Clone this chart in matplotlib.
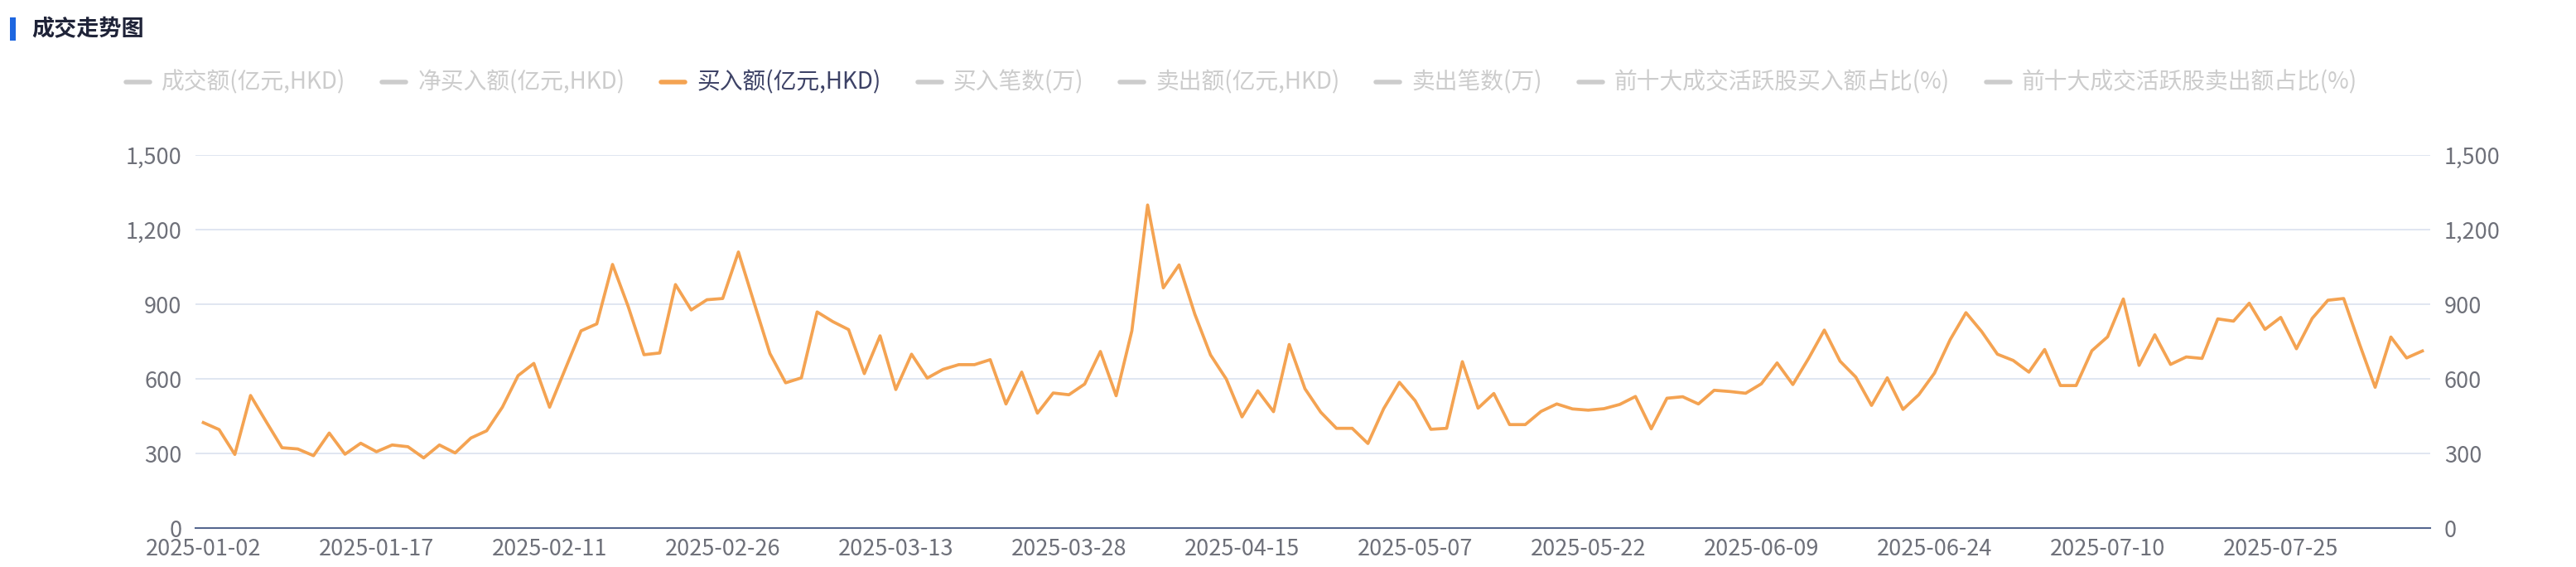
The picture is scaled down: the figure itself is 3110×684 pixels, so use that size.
import numpy as np
import pandas as pd
import matplotlib
matplotlib.use('Agg')
import matplotlib.pyplot as plt
from matplotlib.lines import Line2D
from matplotlib.patches import Rectangle
from matplotlib.ticker import FuncFormatter, MultipleLocator

plt.rcParams['font.family'] = ['Noto Sans CJK SC', 'DejaVu Sans']

# dias sem negociacao (港股通) entre 2025-01-02 e 2025-08-07
dias_fechados = ['2025-01-28', '2025-01-29', '2025-01-30', '2025-01-31', '2025-02-03',
                 '2025-02-04', '2025-04-04', '2025-04-18', '2025-04-21', '2025-05-01',
                 '2025-05-02', '2025-05-05', '2025-06-02', '2025-07-01']

# 买入额(亿元,HKD)
compra = [
    424, 396, 296, 533, 427, 323, 318, 291, 382, 297,
    341, 307, 334, 327, 282, 334, 302, 362, 391, 486,
    613, 662, 486, 640, 793, 821, 1060, 890, 697, 704,
    979, 877, 918, 923, 1110, 905, 702, 584, 604, 869,
    830, 798, 621, 773, 557, 699, 603, 638, 657, 657,
    677, 499, 627, 462, 543, 536, 579, 710, 532, 793,
    1299, 966, 1058, 860, 696, 599, 447, 552, 468, 738,
    560, 466, 401, 401, 340, 480, 586, 512, 397, 401,
    669, 482, 541, 416, 416, 469, 499, 479, 474, 480,
    497, 529, 399, 522, 528, 499, 554, 549, 542, 580,
    664, 577, 682, 796, 671, 607, 493, 604, 477, 536,
    623, 758, 866, 790, 699, 674, 627, 718, 573, 573,
    713, 769, 921, 654, 777, 658, 688, 682, 841, 832,
    904, 799, 847, 721, 843, 916, 923, 741, 566, 768,
    684, 712]

nomes_series = ['成交额(亿元,HKD)', '净买入额(亿元,HKD)', '买入额(亿元,HKD)', '买入笔数(万)',
                '卖出额(亿元,HKD)', '卖出笔数(万)', '前十大成交活跃股买入额占比(%)',
                '前十大成交活跃股卖出额占比(%)']
serie_ativa = 2

datas = pd.bdate_range('2025-01-02', '2025-08-07', freq='C', holidays=dias_fechados)
rotulos = list(datas.strftime('%Y-%m-%d'))[:len(compra)]

W, H = 3110, 684
fig = plt.figure(figsize=(W / 100, H / 100), dpi=100)
fig.patch.set_facecolor('white')

# titulo com barra azul
fig.add_artist(Rectangle((12 / W, 1 - 49 / H), 7 / W, 28 / H, transform=fig.transFigure,
                         color='#1d66e0', lw=0))
fig.text(38 / W, 1 - 35 / H, '成交走势图', fontsize=19.5, fontweight='bold',
         color='#1f2338', va='center', ha='left')

ax = fig.add_axes([236 / W, 1 - 637 / H, (2934 - 236) / W, (637 - 187) / H])
x = np.arange(len(compra))
ax.plot(x, compra, color='#f4a352', lw=2.7, solid_joinstyle='round')

ax.set_xlim(-0.5, len(compra) - 0.5)
ax.set_ylim(0, 1500)
ax.yaxis.set_major_locator(MultipleLocator(300))
ax.yaxis.set_major_formatter(FuncFormatter(lambda v, p: f'{v:,.0f}'))
ax.set_xticks(x[::11])
ax.set_xticklabels(rotulos[::11])

ax.grid(axis='y', color='#e0e6f1', lw=1.4)
ax.set_axisbelow(True)
for lado in ['top', 'left', 'right']:
    ax.spines[lado].set_visible(False)
ax.spines['bottom'].set_color('#55678f')
ax.spines['bottom'].set_linewidth(1.5)
ax.tick_params(axis='y', length=0, pad=12, labelsize=19.5, labelcolor='#6e7079',
               labelright=True)
ax.tick_params(axis='x', length=0, pad=9, labelsize=19.5, labelcolor='#6e7079')

# legenda desenhada a mao
renderer = fig.canvas.get_renderer()
pos_x = 149
y_leg = 1 - 99 / H
for i, nome in enumerate(nomes_series):
    cor_icone = '#f4a352' if i == serie_ativa else '#cccccc'
    cor_texto = '#3d4266' if i == serie_ativa else '#cccccc'
    fig.add_artist(Line2D([(pos_x + 3) / W, (pos_x + 32) / W], [y_leg, y_leg],
                          transform=fig.transFigure, color=cor_icone, lw=4,
                          solid_capstyle='round'))
    t = fig.text((pos_x + 46) / W, y_leg, nome, fontsize=20, color=cor_texto,
                 va='center', ha='left')
    largura = t.get_window_extent(renderer).width
    pos_x = pos_x + 46 + largura + 41

fig.savefig('out.png', dpi=100)
